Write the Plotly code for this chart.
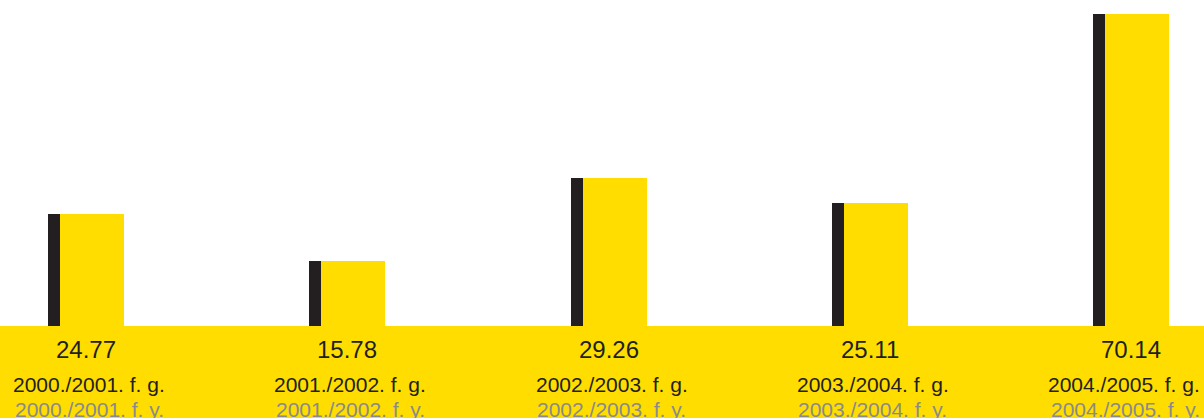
import plotly.graph_objects as go

# ---- data ----
categories = ["2000./2001. f. g.", "2001./2002. f. g.", "2002./2003. f. g.",
              "2003./2004. f. g.", "2004./2005. f. g."]
categories_alt = ["2000./2001. f. y.", "2001./2002. f. y.", "2002./2003. f. y.",
                  "2003./2004. f. y.", "2004./2005. f. y."]
value_labels = ["24.77", "15.78", "29.26", "25.11", "70.14"]
# bar heights as drawn (relative index, tallest = 100)
bar_heights = [35.9, 20.8, 47.4, 39.4, 100.0]

YELLOW = "#FFDD00"
DARK = "#231F20"
GREY = "#8A8A8A"
FONT = "Liberation Sans, Arial, sans-serif"

W, H = 1204, 418
x = list(range(len(categories)))

# pixel geometry -> axis ranges
step_px = 261.25
first_center_px = 86
band_px = 92          # height of yellow band at bottom
top_px = 14           # top of tallest bar
unit_px = (H - band_px - top_px) / 100.0

xr = [-first_center_px / step_px, (W - first_center_px) / step_px]
yr = [-band_px / unit_px, (H - band_px) / unit_px]

fig = go.Figure()
fig.add_trace(go.Bar(
    x=x, y=bar_heights, width=[12 / step_px] * len(x), offset=-38 / step_px,
    marker=dict(color=DARK, line=dict(width=0)), hoverinfo="skip", showlegend=False))
fig.add_trace(go.Bar(
    x=x, y=bar_heights, width=[64 / step_px] * len(x), offset=-26 / step_px,
    marker=dict(color=YELLOW, line=dict(width=0)), hoverinfo="skip", showlegend=False))

# yellow band
fig.add_shape(type="rect", xref="paper", yref="y", x0=0, x1=1, y0=yr[0], y1=0,
              fillcolor=YELLOW, line=dict(width=0), layer="below")

annotations = []
n = len(x)
for i in x:
    annotations.append(dict(x=i, y=0, xref="x", yref="y", text=value_labels[i],
                            showarrow=False, xanchor="center", yanchor="middle",
                            yshift=-23, font=dict(family=FONT, size=24, color=DARK)))
    if i == n - 1:
        cx = dict(x=1, xref="paper", xanchor="right", xshift=-2)
    else:
        cx = dict(x=i, xref="x", xanchor="center", xshift=3)
    annotations.append(dict(**cx, y=0, yref="y", text=categories[i], showarrow=False,
                            yanchor="middle", yshift=-58,
                            font=dict(family=FONT, size=21, color=DARK)))
    annotations.append(dict(**cx, y=0, yref="y", text=categories_alt[i], showarrow=False,
                            yanchor="middle", yshift=-83,
                            font=dict(family=FONT, size=21, color=GREY)))

fig.update_layout(
    width=W, height=H, margin=dict(l=0, r=0, t=0, b=0),
    paper_bgcolor="white", plot_bgcolor="white",
    barmode="overlay", bargap=0,
    xaxis=dict(range=xr, visible=False, fixedrange=True),
    yaxis=dict(range=yr, visible=False, fixedrange=True),
    annotations=annotations,
)
fig.write_html("out.html", config={"displayModeBar": False, "staticPlot": True},
               post_script="document.body.style.margin='0';document.body.style.overflow='hidden';")
